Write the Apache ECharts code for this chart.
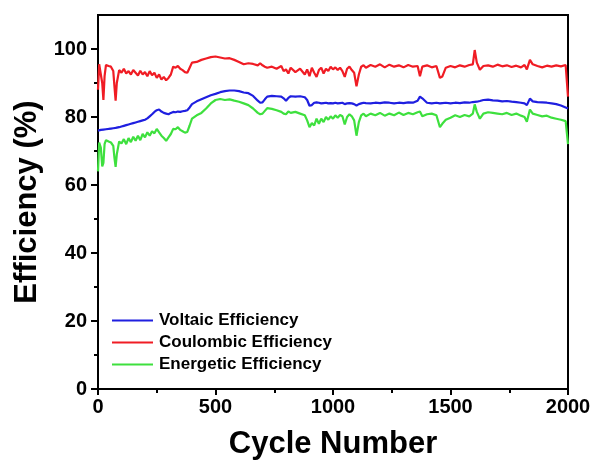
<!DOCTYPE html>
<html><head><meta charset="utf-8">
<script src="https://cdn.jsdelivr.net/npm/echarts@6/dist/echarts.min.js"></script>
<style>html,body{margin:0;padding:0;background:#fff}#c{width:595px;height:465px}</style>
</head><body><div id="c"></div>
<script>
var cycles = [0,5,12,18,23,28,34,45,55,65,
70,75,80,90,100,110,120,130,140,150,
160,170,180,190,200,210,220,230,240,250,
260,270,280,290,300,310,320,330,340,350,
360,370,380,390,400,420,440,460,480,500,
520,540,560,580,600,620,640,660,680,690,
700,710,720,740,760,780,790,800,810,820,
840,860,880,890,900,910,920,930,940,950,
960,970,980,990,1000,1010,1020,1030,1040,1050,
1060,1070,1080,1090,1100,1110,1120,1130,1140,1160,
1180,1200,1220,1240,1260,1280,1300,1320,1340,1360,
1370,1380,1400,1420,1440,1455,1465,1480,1500,1520,
1540,1560,1580,1595,1603,1612,1625,1640,1660,1680,
1700,1720,1740,1760,1780,1800,1815,1825,1838,1850,
1870,1890,1910,1930,1950,1970,1990,1996,2000];

var voltaic = [76.0,76.1,76.2,76.2,76.3,76.3,76.4,76.5,76.6,76.7,
76.8,76.8,76.9,77.0,77.2,77.4,77.6,77.8,78.0,78.2,
78.4,78.6,78.8,79.0,79.2,79.6,80.2,80.8,81.5,82.0,
82.2,81.6,81.2,81.0,80.8,81.2,81.5,81.4,81.6,81.5,
81.7,81.8,82.0,82.8,83.8,84.6,85.2,85.8,86.4,86.8,
87.3,87.6,87.8,87.8,87.6,87.2,87.0,86.2,84.8,84.2,
84.3,85.2,86.0,86.2,86.1,86.0,85.5,84.8,85.6,86.1,
86.0,86.1,85.8,85.0,83.3,83.5,84.2,84.3,84.2,84.0,
84.1,84.2,84.0,84.1,84.0,84.2,84.0,84.1,84.2,83.8,
84.0,84.1,84.0,83.8,83.4,83.8,84.0,84.2,84.1,84.0,
84.2,84.1,84.3,84.2,84.0,84.2,84.1,84.3,84.2,84.8,
86.0,85.5,84.2,84.0,84.2,84.0,84.1,84.2,84.0,84.2,
84.1,84.3,84.2,84.4,84.6,84.5,84.7,85.0,85.1,84.9,
84.8,84.6,84.7,84.5,84.4,84.2,84.0,83.5,85.4,84.6,
84.4,84.3,84.2,84.0,83.8,83.4,82.8,82.7,82.5];

var coulombic = [88.0,95.5,95.0,90.0,85.0,92.0,95.3,95.0,94.8,93.5,
89.0,84.8,90.0,93.8,93.0,94.2,92.8,93.5,92.5,93.8,
93.0,92.2,93.6,92.5,93.2,92.0,93.5,92.3,93.0,91.5,
92.5,91.0,91.8,90.8,91.5,92.5,94.8,94.5,95.0,94.2,
93.8,93.2,93.0,94.5,96.0,96.2,96.8,97.2,97.6,97.8,
97.5,97.2,97.3,96.8,96.2,95.5,95.8,95.6,95.2,95.8,
95.2,94.8,94.5,94.8,94.2,95.0,93.5,94.0,92.8,94.5,
93.2,94.2,92.5,94.0,92.0,94.5,93.0,91.8,93.8,94.5,
92.8,94.2,93.5,94.8,94.0,94.6,93.8,94.5,93.5,91.8,
94.2,94.8,93.8,93.0,89.0,92.5,94.8,95.2,94.5,95.3,
94.8,95.5,94.6,95.4,94.8,95.2,94.6,95.3,94.8,95.0,
92.0,94.8,95.2,94.6,95.0,91.5,91.9,94.5,95.0,94.6,
95.2,94.8,95.3,95.5,99.7,96.0,93.9,95.0,95.2,94.8,
95.4,94.9,95.2,94.7,95.1,94.6,95.3,94.0,96.8,95.5,
95.0,94.6,95.1,94.8,95.2,94.9,95.3,95.0,86.0];

var energetic = [64.0,72.5,71.0,65.5,66.5,72.0,73.2,72.8,72.5,71.5,
68.0,65.3,69.0,72.8,72.2,73.5,72.0,73.8,72.6,74.2,
73.0,74.5,73.2,75.0,74.0,75.5,74.5,75.8,75.2,76.5,
75.5,74.5,73.8,73.0,74.0,75.0,76.5,76.4,77.0,76.2,
75.8,75.4,75.6,77.5,79.5,80.5,81.2,82.5,84.0,85.0,
85.3,85.0,85.2,84.8,84.5,84.0,83.5,82.5,81.2,80.8,
81.0,81.8,82.6,82.4,82.0,81.5,81.0,80.8,81.6,81.2,
81.5,81.0,80.5,79.0,77.0,78.2,77.5,79.5,78.0,79.5,
78.5,80.0,79.2,80.2,79.5,80.5,79.8,80.6,80.2,77.8,
80.0,80.8,80.2,79.0,74.5,78.5,80.5,81.0,80.2,81.0,
80.5,81.2,80.4,81.0,80.5,81.3,80.6,81.2,80.8,81.4,
81.6,80.2,80.8,81.0,80.5,77.0,78.0,79.2,79.8,80.5,
80.0,80.6,80.2,81.0,83.7,81.5,79.5,81.0,81.4,81.2,
81.0,80.8,81.2,80.6,81.0,80.4,80.0,78.6,82.2,81.0,
80.6,80.2,80.4,79.8,79.5,79.2,78.8,78.5,72.0];

var seriesNames = ['Voltaic Efficiency','Coulombic Efficiency','Energetic Efficiency'];
var yTicks = [0,20,40,60,80,100];
var yMinorTicks = [10,30,50,70,90];

function pairs(vals){ return cycles.map(function(c,i){ return [c, vals[i]]; }); }

var FONT = 'Liberation Sans, Arial, sans-serif';
var chart = echarts.init(document.getElementById('c'), null, {renderer:'canvas'});
var axisLineStyle = {color:'#000', width:2};
chart.setOption({
  animation:false,
  backgroundColor:'#fff',
  grid:{left:98, right:27, top:15, bottom:73, show:true, borderColor:'#000', borderWidth:2, containLabel:false},
  legend:{
    orient:'vertical', left:112, top:312, padding:0, itemGap:5,
    itemWidth:41, itemHeight:2, icon:'rect',
    data:seriesNames,
    textStyle:{fontFamily:FONT, fontSize:17, fontWeight:'bold', color:'#000', padding:[0,0,0,1]}
  },
  xAxis:{
    type:'value', min:0, max:2000, interval:500,
    name:'Cycle Number', nameLocation:'middle', nameGap:40,
    nameTextStyle:{fontFamily:FONT, fontSize:31, fontWeight:'bold', color:'#000'},
    axisLine:{show:true, lineStyle:axisLineStyle},
    axisTick:{show:true, inside:false, length:6, lineStyle:axisLineStyle},
    minorTick:{show:true, splitNumber:2, length:4, lineStyle:axisLineStyle},
    axisLabel:{fontFamily:FONT, fontSize:20, fontWeight:'bold', color:'#000', margin:8,
      formatter:function(v){ return String(v); }},
    splitLine:{show:false}, minorSplitLine:{show:false}
  },
  yAxis:[{
    type:'value', min:0, max:110, interval:20, position:'left',
    name:'Efficiency (%)', nameLocation:'middle', nameGap:54,
    nameTextStyle:{fontFamily:FONT, fontSize:31, fontWeight:'bold', color:'#000'},
    axisLine:{show:true, lineStyle:axisLineStyle},
    axisTick:{show:true, inside:false, length:7, lineStyle:axisLineStyle, customValues:yTicks},
    axisLabel:{fontFamily:FONT, fontSize:20, fontWeight:'bold', color:'#000', margin:11, customValues:yTicks},
    splitLine:{show:false}
  },{
    type:'value', min:0, max:110, position:'left', offset:0,
    axisLine:{show:false},
    axisTick:{show:true, inside:false, length:4, lineStyle:axisLineStyle, customValues:yMinorTicks},
    axisLabel:{show:false},
    splitLine:{show:false}
  }],
  series:[
    {name:seriesNames[0], type:'line', data:pairs(voltaic), showSymbol:false, color:'#1f1fe0', lineStyle:{width:2.2}},
    {name:seriesNames[1], type:'line', data:pairs(coulombic), showSymbol:false, color:'#f01c24', lineStyle:{width:2.2}},
    {name:seriesNames[2], type:'line', data:pairs(energetic), showSymbol:false, color:'#3ee03e', lineStyle:{width:2.2}}
  ]
});
</script></body></html>
